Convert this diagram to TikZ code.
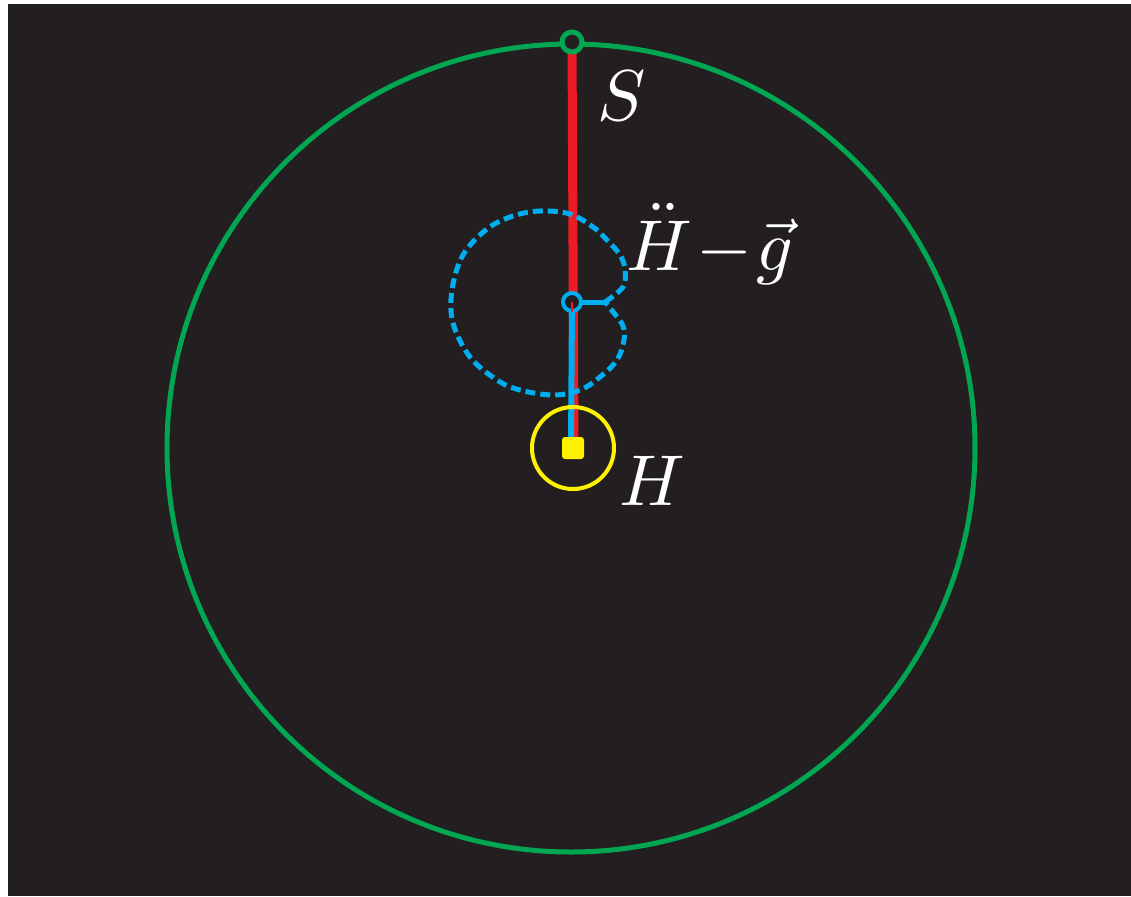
\documentclass[tikz,border=0pt]{standalone}
\usepackage{graphicx}
\definecolor{bgdark}{HTML}{231F20}
\definecolor{ringgreen}{HTML}{00A651}
\definecolor{rodred}{HTML}{ED1C24}
\definecolor{cyanblue}{HTML}{00AEEF}
\definecolor{sunyellow}{HTML}{FFF200}
\newcommand{\bigmath}[1]{\scalebox{3.6}{$#1$}}
\tikzset{
  lbl/.style={text=white,inner sep=0pt},
  ring/.style={draw=ringgreen,line width=2.5pt},
  bluedash/.style={draw=cyanblue,line width=2.5pt,dash pattern=on 5pt off 2.5pt},
}
\begin{document}
\begin{tikzpicture}[x=0.5pt,y=-0.5pt]
\useasboundingbox (0,0) rectangle (1131,896);
\fill[white] (0,0) rectangle (1131,896);
\fill[bgdark] (8,4) rectangle (1131,896);
% big green circle
\draw[ring] (571,448) circle[radius=404];
% points
\coordinate (Hc) at (573,448);
\coordinate (Pc) at (572,302);
\coordinate (Sc) at (572,42);
\coordinate (cusp) at (605,302);
% red rod
\draw[rodred,line width=4.5pt] (Sc) -- (574,448);
% blue rod
\draw[cyanblue,line width=3pt] (Pc) -- (571,448);
% blue dashed loop
\draw[cyanblue,line width=2.5pt] (Pc) -- (cusp);
\draw[bluedash] plot[smooth,tension=0.6] coordinates {(605,302) (623,287) (625,270) (620,255) (605,238) (593,227) (570,214) (540,211) (513,216) (487,229) (463,255) (452,290) (453,323) (470,357) (497,380) (520,390) (553,395) (580,390) (600,377) (617,360) (624,340) (623,326) (614,313) (605,302)};
% yellow circle and marker
\draw[sunyellow,line width=2pt] (Hc) circle[radius=41];
\node[fill=sunyellow,minimum size=11pt,inner sep=0pt,rounded corners=1.5pt] (Hm) at (Hc) {};
% blue point
\node[circle,draw=cyanblue,line width=2pt,fill=bgdark,minimum size=9pt,inner sep=0pt] (P) at (Pc) {};
\draw[rodred,line width=1pt] (P.center) -- ++(0,10);
% green top point
\node[circle,draw=ringgreen,line width=2.5pt,fill=bgdark,minimum size=10pt,inner sep=0pt] (S) at (Sc) {};
% labels
\node[lbl] (lS) at (622,96) {\bigmath{S}};
\node[lbl,anchor=base west] (lHg) at (626,270) {\bigmath{\ddot{H}\mkern-3mu-\mkern-3mu\vec{g}}};
\node[lbl] (lH) at (652,481) {\bigmath{H}};
\end{tikzpicture}
\end{document}
